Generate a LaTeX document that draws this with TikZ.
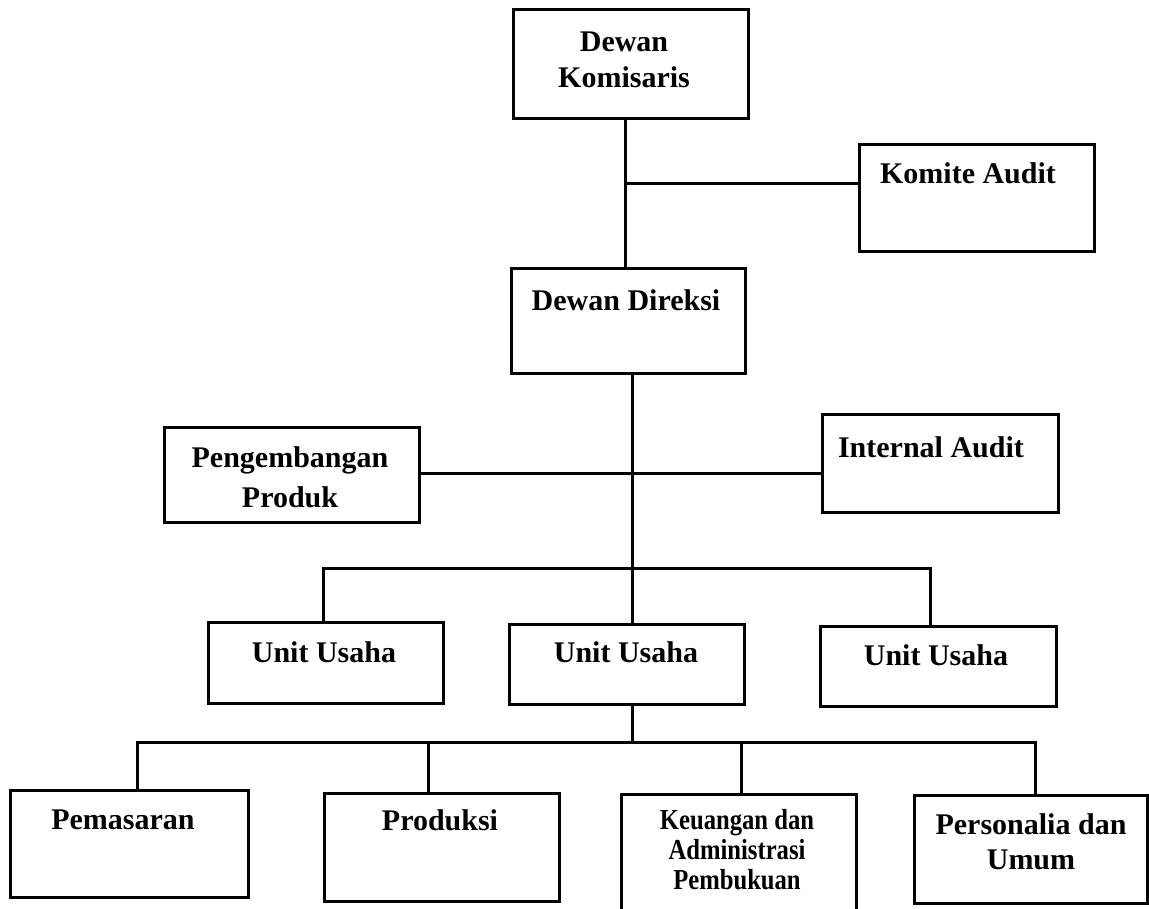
\documentclass[tikz,border=0pt]{standalone}
\usepackage{fontspec}
\setmainfont{Liberation Serif}
\newfontfamily\condfont[FakeStretch=0.85]{Liberation Serif}
\begin{document}
\begin{tikzpicture}[x=1pt,y=-1pt,
  box/.style={draw=black, line width=3.2pt, anchor=north west, inner sep=0pt, minimum width=#1},
  box/.default=235pt,
  lbl/.style={inner sep=0pt, align=center, font=\fontsize{30}{36}\selectfont\bfseries},
  lblsmall/.style={inner sep=0pt, align=center, font=\condfont\fontsize{29}{30}\selectfont\bfseries},
  conn/.style={draw=black, line width=3pt}]
\clip (0,0) rectangle (1149,909);
\fill[white] (0,0) rectangle (1149,909);
% boxes
\node[box=235pt, minimum height=109pt] (dk) at (512,8) {};
\node[box=235pt, minimum height=107pt] (komite) at (858,143) {};
\node[box=234pt, minimum height=105pt] (dd) at (510,267) {};
\node[box=255pt, minimum height=95pt] (peng) at (163,426) {};
\node[box=236pt, minimum height=98pt] (ia) at (821,413) {};
\node[box=235pt, minimum height=81pt] (u1) at (207,621) {};
\node[box=235pt, minimum height=80pt] (u2) at (508,623) {};
\node[box=236pt, minimum height=80pt] (u3) at (819,625) {};
\node[box=238pt, minimum height=107pt] (pem) at (9,789) {};
\node[box=235pt, minimum height=108pt] (prod) at (323,792) {};
\node[box=235pt, minimum height=140pt] (keu) at (620,793) {};
\node[box=233pt, minimum height=108pt] (pers) at (913,794) {};
% texts
\node[lbl] (tdk) at (624,60) {Dewan\\Komisaris};
\node[lbl] (tkom) at (968,173) {Komite Audit};
\node[lbl] (tdd) at (626,300) {Dewan Direksi};
\node[lbl, font=\fontsize{30}{40}\selectfont\bfseries] (tpeng) at (290,477) {Pengembangan\\Produk};
\node[lbl] (tia) at (931,447) {Internal Audit};
\node[lbl] (tu1) at (324,652) {Unit Usaha};
\node[lbl] (tu2) at (626,652) {Unit Usaha};
\node[lbl] (tu3) at (936,655) {Unit Usaha};
\node[lbl] (tpem) at (123,820) {Pemasaran};
\node[lbl] (tprod) at (440,820) {Produksi};
\node[lblsmall] (tkeu) at (737,850) {Keuangan dan\\Administrasi\\Pembukuan};
\node[lbl, font=\fontsize{30}{35}\selectfont\bfseries] (tpers) at (1031,842) {Personalia dan\\Umum};
% junction coordinates
\coordinate (j1) at (625,184);
\coordinate (t) at (632,473);
\coordinate (b1) at (323,568);
\coordinate (b2) at (930,568);
\coordinate (c0) at (632,742);
\coordinate (c1) at (137,742);
\coordinate (c2) at (428,742);
\coordinate (c3) at (741,742);
\coordinate (c4) at (1035,742);
% connectors
\draw[conn] (dk.south -| j1) -- (dd.north -| j1);
\draw[conn] (j1) -- (komite.west |- j1);
\draw[conn] (dd.south -| t) -- (u2.north -| t);
\draw[conn] (peng.east |- t) -- (ia.west |- t);
\draw[conn] (u1.north -| b1) -- (b1) -- (b2) -- (u3.north -| b2);
\draw[conn] (u2.south -| c0) -- (c0);
\draw[conn] (pem.north -| c1) -- (c1) -- (c4) -- (pers.north -| c4);
\draw[conn] (c2) -- (prod.north -| c2);
\draw[conn] (c3) -- (keu.north -| c3);
\end{tikzpicture}
\end{document}
